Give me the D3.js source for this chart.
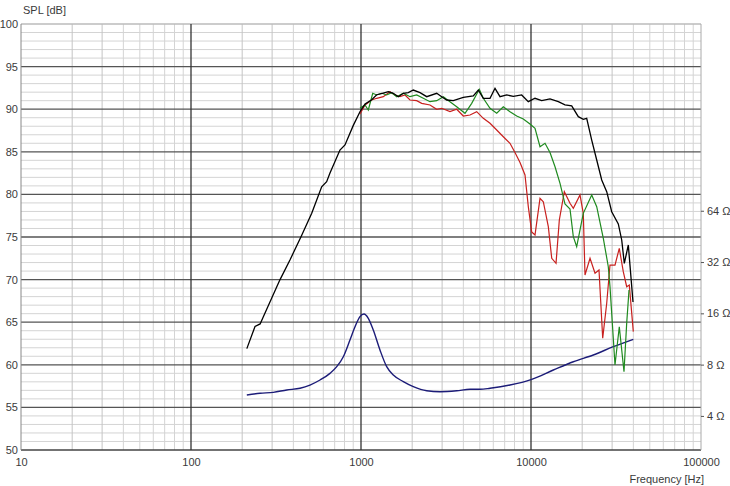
<!DOCTYPE html>
<html><head><meta charset="utf-8">
<script src="https://cdn.jsdelivr.net/npm/d3@7"></script>
<style>
html,body{margin:0;padding:0;background:#fff;}
svg text{font-family:"Liberation Sans",Arial,sans-serif;}
</style></head>
<body><svg id="c" width="730" height="486"></svg>
<script>
// ---------- data ----------
const yTicks = [50,55,60,65,70,75,80,85,90,95,100];
const xTicks = [10,100,1000,10000,100000];
const ohmTicks = [4,8,16,32,64];
const yLabel = "SPL [dB]";
const xLabel = "Frequency [Hz]";

// [frequency Hz, SPL dB]
const splBlack = [[213,61.9],[238,64.5],[255,64.8],[266,65.6],[334,70.0],[382,72.3],[448,75.2],[513,77.8],[587,80.9],[628,81.5],[657,82.5],[752,85.2],[805,85.8],[901,88.1],[986,89.7],[1056,90.6],[1156,91.1],[1237,91.7],[1353,91.9],[1447,92.05],[1549,91.87],[1658,91.47],[1774,91.87],[1898,91.94],[2031,92.25],[2224,91.94],[2435,91.47],[2788,91.87],[2983,91.47],[3193,91.08],[3491,91.0],[3998,91.4],[4577,91.55],[4898,92.25],[5242,91.28],[5740,91.28],[6142,92.45],[6572,91.47],[7195,91.67],[7868,91.5],[8816,91.67],[9641,90.88],[10557,91.28],[11559,91.0],[12936,91.2],[14474,90.88],[15849,90.5],[17355,90.38],[18978,89.12],[20306,88.81],[21264,88.93],[22757,86.38],[24354,84.04],[26062,81.69],[27885,80.32],[29836,77.97],[32626,76.53],[34167,74.65],[35394,71.91],[37365,74.06],[39811,67.37]];

const splRed = [[986,89.44],[1056,90.49],[1156,91.08],[1237,91.28],[1353,91.47],[1481,92.05],[1585,91.67],[1696,91.47],[1815,91.67],[1942,91.08],[2126,91.0],[2276,90.69],[2546,90.49],[2788,89.99],[2983,90.11],[3337,89.71],[3655,89.99],[3998,89.2],[4378,89.32],[4793,89.71],[5242,88.93],[5740,88.35],[6284,87.56],[6873,86.77],[7523,86.0],[8050,84.92],[8617,83.74],[9220,82.28],[9641,78.56],[10095,75.59],[10557,75.23],[11298,79.54],[11814,79.14],[12643,76.21],[13243,72.5],[14035,71.91],[14676,77.0],[15704,80.32],[16960,78.96],[17738,78.37],[19420,79.93],[20306,77.78],[20779,70.54],[22243,72.5],[23801,70.74],[25119,71.13],[26413,63.11],[27885,67.22],[29153,71.71],[31195,71.71],[33066,73.67],[34902,70.93],[36550,69.17],[37865,69.37],[39976,63.89]];

const splGreen = [[986,90.14],[1056,90.49],[1104,89.91],[1172,91.87],[1237,91.67],[1324,91.87],[1416,91.67],[1516,91.94],[1622,91.47],[1774,91.87],[1942,91.47],[2126,91.67],[2325,91.28],[2546,90.88],[2788,91.0],[3049,91.47],[3337,90.88],[3655,90.29],[4091,89.52],[4479,90.69],[4965,92.34],[5242,91.28],[5740,90.11],[6284,89.52],[6873,90.29],[7523,89.71],[8240,89.2],[9010,88.85],[9864,88.26],[10557,87.76],[11298,85.6],[12090,86.0],[12936,84.92],[13846,83.25],[14815,81.3],[15849,78.87],[16960,78.29],[17738,75.04],[18567,73.86],[20306,77.78],[22757,79.93],[24354,78.56],[26632,74.85],[28488,71.51],[29153,69.17],[31195,59.98],[33066,64.47],[35242,59.19],[36550,64.87],[37719,68.78]];

// [frequency Hz, impedance Ohm]
const impedance = [[213,5.31],[255,5.43],[305,5.50],[366,5.68],[438,5.81],[501,6.07],[574,6.50],[657,7.11],[720,7.78],[787,8.90],[861,11.16],[922,13.35],[986,15.3],[1041,15.85],[1104,14.96],[1181,12.76],[1293,9.75],[1416,7.78],[1549,6.95],[1774,6.36],[2031,5.94],[2435,5.62],[2915,5.55],[3655,5.62],[4378,5.73],[5012,5.73],[5740,5.81],[7523,6.07],[10095,6.56],[13531,7.44],[17738,8.32],[23259,9.11],[30488,10.19],[39976,11.26]];

// ---------- chart ----------
const svg = d3.select("#c");
const L=21, R=701, T=24, B=450;
const x = d3.scaleLog().domain([10,100000]).range([L,R]);
const y = d3.scaleLinear().domain([50,100]).range([B,T]);
const yR = d3.scaleLog().domain([4*Math.pow(10,-4/20), 4*Math.pow(10,46/20)]).range([B,T]);

const grid = svg.append("g");
d3.range(50,101,1).filter(v=>v%5!==0).forEach(v=>{
  grid.append("line").attr("x1",L).attr("x2",R).attr("y1",y(v)).attr("y2",y(v))
    .attr("stroke","#d4d4d4").attr("stroke-width",1);
});
[10,100,1000,10000].forEach(d=>{
  for(let k=2;k<=9;k++){
    grid.append("line").attr("x1",x(k*d)).attr("x2",x(k*d)).attr("y1",T).attr("y2",B)
      .attr("stroke", k<=3 ? "#c4c4c4" : "#d4d4d4").attr("stroke-width",1);
  }
});
yTicks.forEach(v=>{
  grid.append("line").attr("x1",L).attr("x2",R).attr("y1",y(v)).attr("y2",y(v))
    .attr("stroke", (v===50)?"#444":(v===100?"#bbb":"#555")).attr("stroke-width",1.3);
});
xTicks.forEach(v=>{
  grid.append("line").attr("x1",x(v)).attr("x2",x(v)).attr("y1",T).attr("y2",B)
    .attr("stroke", (v===10)?"#888":(v===100000?"#aaa":"#333")).attr("stroke-width",(v===10||v===100000)?1:1.3);
});

const line = d3.line().x(d=>x(d[0])).y(d=>y(d[1]));
const lineR = d3.line().curve(d3.curveMonotoneX).x(d=>x(d[0])).y(d=>yR(d[1]));
svg.append("path").datum(impedance).attr("d",lineR).attr("fill","none").attr("stroke","#1c1c78").attr("stroke-width",1.4);
svg.append("path").datum(splRed).attr("d",line).attr("fill","none").attr("stroke","#c8201e").attr("stroke-width",1.2);
svg.append("path").datum(splGreen).attr("d",line).attr("fill","none").attr("stroke","#1f8a1f").attr("stroke-width",1.2);
svg.append("path").datum(splBlack).attr("d",line).attr("fill","none").attr("stroke","#000").attr("stroke-width",1.3);

const fs = "11px", col="#3a3a3a";
const ax = svg.append("g").attr("transform",`translate(${L-3},0)`)
  .call(d3.axisLeft(y).tickValues(yTicks).tickSize(0).tickPadding(0).tickFormat(d3.format("d")));
ax.select(".domain").remove();
ax.selectAll("text").attr("font-size",fs).attr("fill",col).attr("dy","0.32em");

const bx = svg.append("g").attr("transform",`translate(0,${B+8})`)
  .call(d3.axisBottom(x).tickValues(xTicks).tickSize(0).tickPadding(0).tickFormat(d3.format("d")));
bx.select(".domain").remove();
bx.selectAll("text").attr("font-size",fs).attr("fill",col);

const rx = svg.append("g").attr("transform",`translate(${R},0)`)
  .call(d3.axisRight(yR).tickValues(ohmTicks).tickSize(3).tickPadding(3).tickFormat(d=>d+" Ω"));
rx.select(".domain").remove();
rx.selectAll("line").attr("stroke","#555");
rx.selectAll("text").attr("font-size",fs).attr("fill",col);

svg.append("text").attr("x",23).attr("y",14).attr("font-size",fs).attr("fill",col).text(yLabel);
svg.append("text").attr("x",704).attr("y",483).attr("text-anchor","end").attr("font-size",fs).attr("fill",col).text(xLabel);
</script></body></html>
